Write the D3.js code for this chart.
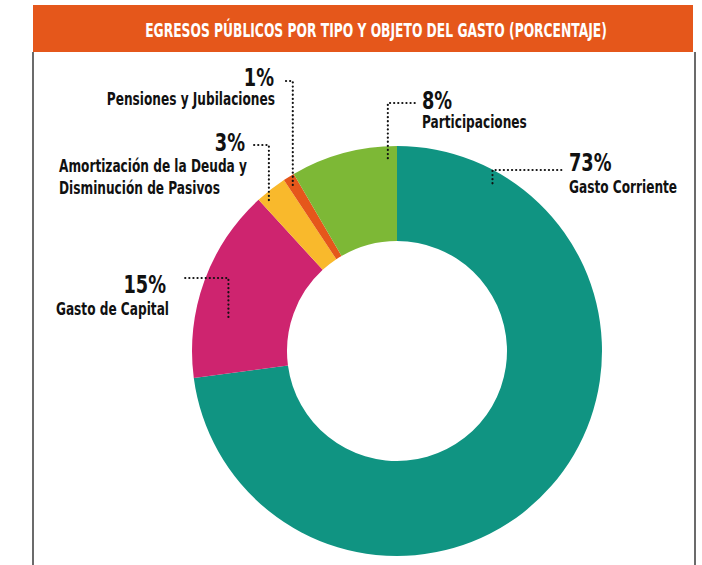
<!DOCTYPE html>
<html>
<head>
<meta charset="utf-8">
<script src="https://cdn.jsdelivr.net/npm/d3@7"></script>
<style>
  body { margin: 0; background: #fff; }
  svg { display: block; }
  text { font-family: "Liberation Sans Narrow", "DejaVu Sans Condensed", "DejaVu Sans", sans-serif; font-weight: bold; }
  .pct { font-size: 25px; fill: #111; }
  .name { font-size: 18px; fill: #111; }
  .title { font-size: 19px; fill: #fff; }
  .leader { fill: none; stroke: #111; stroke-width: 2.2; stroke-dasharray: 0.1 4; stroke-linecap: round; }
</style>
</head>
<body>
<script>
var width = 702,
  height = 565;

var title = "EGRESOS PÚBLICOS POR TIPO Y OBJETO DEL GASTO (PORCENTAJE)";

// slices in drawing order, clockwise from 12 o'clock
var categories = ["Gasto Corriente", "Gasto de Capital", "Amortización de la Deuda y|Disminución de Pasivos", "Pensiones y Jubilaciones", "Participaciones"];
var values = [72.9, 15.3, 2.5, 0.9, 8.4];
var pctLabels = ["73%", "15%", "3%", "1%", "8%"];
var colors = ["#109482", "#CE246F", "#F9B92C", "#E5571B", "#7DB836"];

// annotation layout: where the leader touches the slice (fraction of slice, radius)
// and where the label sits
var labelLayout = [
  { at: 0.113, r: 193, elbowY: 170, lineTo: 564, x: 569, pctY: 171, nameY: 193, anchor: "start" },
  { at: 0.345, r: 172, elbowY: 278, lineTo: 182, x: 166, pctY: 293, nameY: 315, anchor: "end", nameX: 169 },
  { at: 0.24, r: 198, elbowY: 145, lineTo: 254, x: 245, pctY: 151, nameY: 172, anchor: "end", nameX: 59, nameAnchor: "start" },
  { at: 0.42, r: 196, elbowY: 81, lineTo: 283, x: 274, pctY: 86, nameY: 105, anchor: "end", nameX: 275 },
  { at: 0.91, r: 193, elbowY: 103, lineTo: 415, x: 422, pctY: 109, nameY: 128, anchor: "start" }
];

// the print uses a condensed face; squeeze the fallback font horizontally
var squeeze = { title: 0.72, pct: 0.79, name: 0.75 };

var box = { left: 33, right: 695, top: 5, header: 47 };
var cx = 397, cy = 351, outerR = 205, innerR = 110;

var svg = d3.select("body").append("svg")
  .attr("width", width)
  .attr("height", height);

function condense(sel, k) {
  sel.each(function() {
    var w = this.getComputedTextLength();
    d3.select(this).attr("textLength", w * k).attr("lengthAdjust", "spacingAndGlyphs");
  });
}

// header
svg.append("rect")
  .attr("x", box.left)
  .attr("y", box.top)
  .attr("width", box.right - box.left - 2)
  .attr("height", box.header)
  .attr("fill", "#E5571B");

svg.append("text")
  .attr("class", "title")
  .attr("x", 376)
  .attr("y", box.top + 32)
  .attr("text-anchor", "middle")
  .text(title)
  .call(condense, squeeze.title);

// side borders
[box.left, box.right].forEach(function(x) {
  svg.append("line")
    .attr("x1", x).attr("x2", x)
    .attr("y1", box.top + box.header).attr("y2", height)
    .attr("stroke", "#3a3a3a")
    .attr("stroke-width", 1.5);
});

var pie = d3.pie().sort(null).value(function(d) { return d; });
var arcs = pie(values);

var arc = d3.arc().innerRadius(innerR).outerRadius(outerR);

var g = svg.append("g")
  .attr("transform", "translate(" + cx + "," + cy + ")");

g.selectAll(".slice")
  .data(arcs)
  .enter().append("path")
  .attr("class", "slice")
  .attr("d", arc)
  .attr("fill", function(d, i) { return colors[i]; });

// labels with dotted leaders
arcs.forEach(function(d, i) {
  var L = labelLayout[i];
  var a = d.startAngle + L.at * (d.endAngle - d.startAngle);
  var px = cx + L.r * Math.sin(a),
    py = cy - L.r * Math.cos(a);

  svg.append("path")
    .attr("class", "leader")
    .attr("d", d3.line()([[px, py], [px, L.elbowY], [L.lineTo, L.elbowY]]));

  svg.append("text")
    .attr("class", "pct")
    .attr("x", L.x)
    .attr("y", L.pctY)
    .attr("text-anchor", L.anchor)
    .text(pctLabels[i])
    .call(condense, squeeze.pct);

  var lines = categories[i].split("|");
  svg.append("text")
    .attr("class", "name")
    .attr("text-anchor", L.nameAnchor || L.anchor)
    .selectAll("tspan")
    .data(lines)
    .enter().append("tspan")
    .attr("x", L.nameX != null ? L.nameX : L.x)
    .attr("y", function(t, j) { return L.nameY + j * 22; })
    .text(function(t) { return t; })
    .call(condense, squeeze.name);
});
</script>
</body>
</html>
